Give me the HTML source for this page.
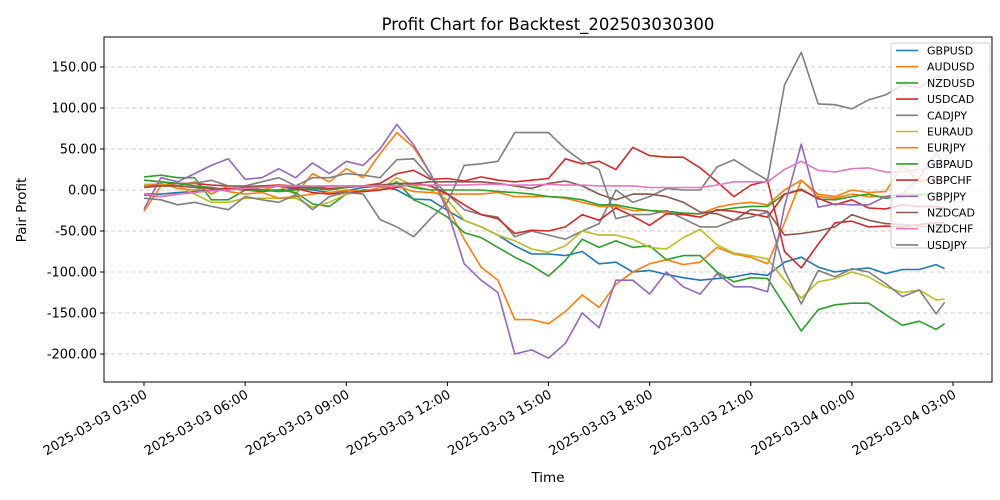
<!DOCTYPE html>
<html><head><meta charset="utf-8"><style>
html,body{margin:0;padding:0;background:#fff;}
svg{display:block;font-family:"DejaVu Sans","Liberation Sans",sans-serif;}
</style></head><body>
<svg id="chart" width="1000" height="500" viewBox="0 0 1000 500">
<rect x="0" y="0" width="1000" height="500" fill="#fff"/>
<text x="548" y="30" text-anchor="middle" font-size="16.5" fill="#000">Profit Chart for Backtest_202503030300</text>
<g id="grid"></g>
<g id="series" clip-path="url(#clip)"></g>
<clipPath id="clip"><rect x="104" y="37" width="888" height="345"/></clipPath>
<rect x="104" y="37" width="888" height="345" fill="none" stroke="#000" stroke-width="1"/>
<g id="axes"></g>
<text x="548" y="482" text-anchor="middle" font-size="13.5">Time</text>
<text x="26" y="210" text-anchor="middle" font-size="13.5" transform="rotate(-90 26 210)">Pair Profit</text>
<g id="legend"></g>
</svg>
<script>
const times = [];
for (let i = 0; i < 48; i++) times.push(i * 0.5);
times.push(23.75);
const xTickLabels = ["2025-03-03 03:00","2025-03-03 06:00","2025-03-03 09:00","2025-03-03 12:00","2025-03-03 15:00","2025-03-03 18:00","2025-03-03 21:00","2025-03-04 00:00","2025-03-04 03:00"];
const xTickHours = [0,3,6,9,12,15,18,21,24];
const yTicks = [150,100,50,0,-50,-100,-150,-200];
const seriesNames = ["GBPUSD","AUDUSD","NZDUSD","USDCAD","CADJPY","EURAUD","EURJPY","GBPAUD","GBPCHF","GBPJPY","NZDCAD","NZDCHF","USDJPY"];
const seriesColors = ["#1f77b4","#ff7f0e","#2ca02c","#d62728","#7f7f7f","#bcbd22","#ff7f0e","#2ca02c","#d62728","#9467bd","#8c564b","#e377c2","#7f7f7f"];
const GBPUSD = [-5,-5,-3,-2,0,2,0,-2,0,2,0,-3,-1,3,5,0,-11,-12,-25,-37,-45,-55,-68,-78,-78,-80,-75,-90,-88,-100,-98,-103,-107,-110,-108,-106,-102,-104,-88,-82,-94,-100,-97,-95,-102,-97,-97,-91,-96];
const AUDUSD = [-26,5,5,10,-5,5,0,0,5,-5,20,10,26,15,44,70,52,20,-20,-60,-94,-110,-158,-158,-163,-148,-128,-143,-115,-100,-90,-85,-91,-88,-70,-78,-82,-90,-40,12,-8,-10,-5,-8,-8,-5,-5,-5,-5];
const NZDUSD = [16,18,15,15,-12,-12,0,0,0,-3,-17,-20,-5,0,0,10,-12,-21,-33,-52,-58,-70,-82,-92,-105,-86,-60,-70,-62,-70,-68,-85,-80,-80,-100,-112,-107,-108,-140,-172,-146,-140,-138,-138,-152,-165,-160,-170,-163];
const USDCAD = [5,6,8,8,6,5,4,5,6,5,3,2,3,5,8,20,24,13,14,11,16,12,10,12,14,38,32,35,25,52,42,40,40,27,10,-8,6,11,-75,-95,-66,-40,-38,-45,-44,-45,-42,-40,-40];
const CADJPY = [12,10,8,8,12,5,5,10,15,5,15,15,20,18,15,37,38,15,-5,-24,-30,-33,-57,-50,-55,-60,-50,-41,0,-15,-8,2,0,0,28,37,24,12,128,168,105,104,99,110,116,128,125,138,140];
const EURAUD = [7,7,5,-5,-15,-15,-10,-10,-10,-10,-21,-15,-5,-2,0,15,5,0,-12,-37,-45,-55,-62,-72,-76,-68,-50,-55,-55,-60,-70,-72,-58,-48,-67,-77,-80,-84,-110,-132,-112,-108,-100,-106,-118,-125,-122,-134,-133];
const EURJPY = [5,8,2,0,3,-2,-5,-3,-10,-8,-5,-3,0,-2,3,5,-2,-3,-5,-5,-5,-3,-8,-8,-8,-10,-15,-20,-20,-25,-25,-28,-29,-29,-21,-17,-15,-18,0,12,-5,-8,0,-3,-2,30,10,15,10];
const GBPAUD = [12,10,8,5,3,0,2,0,-2,0,2,0,3,5,5,8,3,0,0,0,0,-2,-3,-5,-8,-9,-12,-18,-18,-22,-25,-26,-28,-29,-25,-22,-20,-20,-5,1,-11,-12,-8,-5,-10,-8,-6,-5,-5];
const GBPCHF = [-6,-8,-5,-3,0,2,0,3,5,2,-3,-5,-3,-2,0,3,8,5,-5,-18,-30,-35,-53,-49,-50,-45,-30,-37,-22,-32,-43,-29,-30,-33,-24,-26,-29,-33,-5,0,-10,-18,-12,-22,-23,-18,-20,-20,-22];
const GBPJPY = [-23,15,10,20,30,38,13,15,26,15,33,20,35,30,50,80,55,20,-25,-90,-110,-125,-200,-195,-205,-187,-150,-168,-110,-110,-127,-100,-118,-127,-102,-118,-118,-124,-20,56,-21,-17,-18,-18,-8,-5,15,45,30];
const NZDCAD = [3,5,5,3,2,0,3,5,5,3,3,5,5,5,6,8,8,10,10,10,10,8,5,2,8,11,5,-5,-12,-5,-5,-8,-15,-27,-29,-37,-24,-26,-55,-53,-50,-45,-30,-37,-41,-42,-44,-45,-45];
const NZDCHF = [-5,-8,-5,-3,-1,0,2,3,5,5,5,5,5,5,5,5,6,6,6,6,7,7,6,6,7,6,6,5,5,5,3,3,3,3,6,10,10,10,25,35,24,22,26,27,22,22,25,28,28];
const USDJPY = [-10,-12,-18,-15,-20,-24,-8,-12,-15,-6,-24,-8,-3,-5,-36,-45,-57,-35,-15,30,32,35,70,70,70,50,35,25,-35,-30,-30,-25,-35,-45,-45,-37,-33,-27,-98,-139,-98,-106,-96,-100,-114,-130,-122,-151,-137];
const seriesData = [GBPUSD,AUDUSD,NZDUSD,USDCAD,CADJPY,EURAUD,EURJPY,GBPAUD,GBPCHF,GBPJPY,NZDCAD,NZDCHF,USDJPY];

const NS = "http://www.w3.org/2000/svg";
function xScale(h){ return 144 + h * (809 / 24); }
function yScale(v){ return 190 - v * 0.82; }
function mk(tag, attrs, parent){ const e = document.createElementNS(NS, tag); for (const k in attrs) e.setAttribute(k, attrs[k]); parent.appendChild(e); return e; }

const grid = document.getElementById('grid');
const axes = document.getElementById('axes');
yTicks.forEach(v => {
  const y = yScale(v);
  const gl = mk('line', {x1:104, x2:992, y1:y, y2:y, stroke:'#cccccc', 'stroke-width':1, 'stroke-dasharray':'4,3'}, grid);
  
  
  const tk = mk('line', {x1:100, x2:104, y1:y, y2:y, stroke:'#000'}, axes);
  
  
  const t = mk('text', {x:97, y:y + 4.5, 'text-anchor':'end', 'font-size':13}, axes);
  t.textContent = v.toFixed(2);
  
  
});
xTickHours.forEach((h, i) => {
  const x = xScale(h);
  const tk = mk('line', {x1:x, x2:x, y1:382, y2:386, stroke:'#000'}, axes);
  
  
  const t = mk('text', {x:x + 4, y:397, 'text-anchor':'end', 'font-size':13, transform:'rotate(-30 ' + (x + 4) + ' 397)'}, axes);
  t.textContent = xTickLabels[i];
  
  
});

const sg = document.getElementById('series');
seriesData.forEach((arr, si) => {
  const pts = arr.map((v, i) => xScale(times[i]).toFixed(1) + ',' + yScale(v).toFixed(1)).join(' ');
  const pl = mk('polyline', {points:pts, fill:'none', stroke:seriesColors[si], 'stroke-width':1.6, 'stroke-linejoin':'round'}, sg);
  
  
});

const lg = document.getElementById('legend');
const box = mk('rect', {x:891, y:43, width:99, height:205, rx:3, fill:'#fff', 'fill-opacity':0.8, stroke:'#cccccc'}, lg);


seriesNames.forEach((n, i) => {
  const y = 50.5 + i * 16.2;
  const ln = mk('line', {x1:896, x2:918, y1:y, y2:y, stroke:seriesColors[i], 'stroke-width':1.6}, lg);
  
  
  const t = mk('text', {x:927, y:y + 4, 'font-size':11}, lg);
  t.textContent = n;
  
  
});
</script>
</body></html>
